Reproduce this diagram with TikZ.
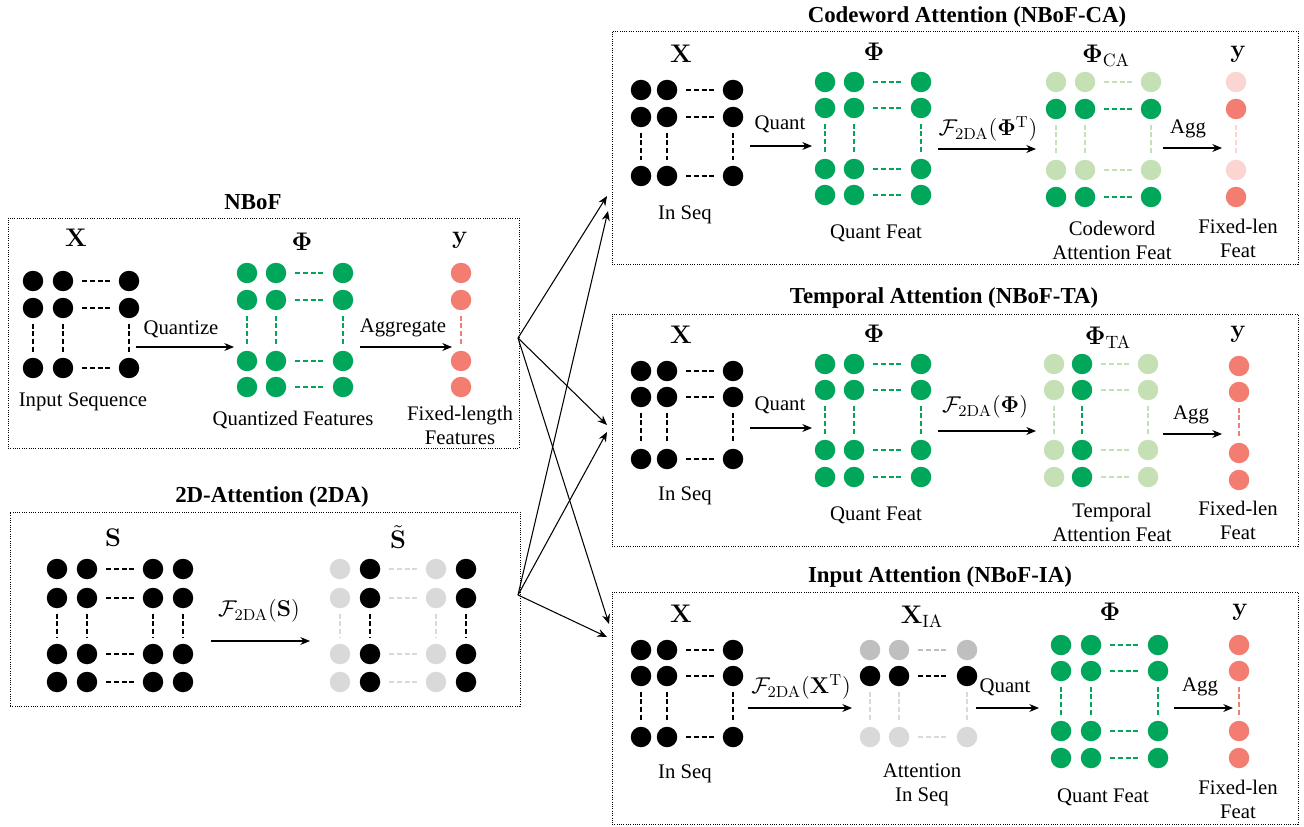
\RequirePackage{fix-cm}
\documentclass[tikz,border=0pt]{standalone}
\usepackage[no-math]{fontspec}
\setmainfont{Liberation Serif}
\usetikzlibrary{arrows.meta,fit}

\definecolor{qgreen}{RGB}{0,166,90}
\definecolor{lgreen}{RGB}{197,224,180}
\definecolor{salmon}{RGB}{242,125,112}
\definecolor{lpink}{RGB}{251,213,209}
\definecolor{lgray}{RGB}{217,217,217}
\definecolor{mgray}{RGB}{191,191,191}

\tikzset{
  pt/.style={circle, inner sep=0pt, minimum size=0.41cm},
  hd/.style={dash pattern=on 0.1cm off 0.055cm, line width=1.1pt, shorten <=0.17cm, shorten >=0.17cm},
  vd/.style={dash pattern=on 0.1cm off 0.055cm, line width=1.1pt, shorten <=0.1cm, shorten >=0.1cm},
  panel/.style={draw, dash pattern=on 0.5pt off 0.8pt, line width=0.5pt, inner sep=0pt},
  lbl/.style={align=center},
  ttl/.style={font=\fontsize{13}{15}\selectfont\bfseries},
  ml/.style={font=\fontsize{14.5}{16}\selectfont},
  fl/.style={font=\fontsize{13}{15}\selectfont},
  flow/.style={->, line width=0.6pt},
}

% row / column of dots: name, index, position, colour, positions
\newcommand{\dotrow}[5]{\foreach \px [count=\k] in {#5} \node[pt, fill=#4] (#1-#2-\k) at (\px,#3) {};}
\newcommand{\dotcol}[5]{\foreach \py [count=\k] in {#5} \node[pt, fill=#4] (#1-\k-#2) at (#3,\py) {};}

\begin{document}
\begin{tikzpicture}[x=0.02cm, y=-0.02cm, line join=round, font=\fontsize{11.8}{13.6}\selectfont, >={Stealth[length=5.5pt,width=4.5pt]}]
\useasboundingbox (0,0) rectangle (1304,827);

% ---------------- NBoF
\node[panel, fit={(8,218) (519,448)}] (nbof) {};
\node[ttl] (nbof-t) at (253,202) {NBoF};
\node[ml] (nbof-xl) at (76,238) {$\mathbf{X}$};
\node[ml] (nbof-pl) at (302,242) {$\mathbf{\Phi}$};
\node[ml] (nbof-yl) at (460,240) {$\mathbf{y}$};
\foreach \py [count=\r] in {281,308,368} {\dotrow{nx}{\r}{\py}{black}{33,63,129}}
\foreach \r in {1,2,3} \draw[hd] (nx-\r-2) -- (nx-\r-3);
\foreach \c in {1,2,3} \draw[vd] (nx-2-\c) -- (nx-3-\c);
\foreach \py [count=\r] in {273,300,361,387} {\dotrow{np}{\r}{\py}{qgreen}{247,276,343}}
\foreach \r in {1,...,4} \draw[hd, qgreen] (np-\r-2) -- (np-\r-3);
\foreach \c in {1,2,3} \draw[vd, qgreen] (np-2-\c) -- (np-3-\c);
\dotcol{ny}{1}{461}{salmon}{273,300,361,387}
\draw[vd, salmon] (ny-2-1) -- (ny-3-1);
\node (nbof-in) at (83,402) {Input Sequence};
\node (nbof-qf) at (293,420) {Quantized Features};
\node[lbl] (nbof-ff) at (460,425) {Fixed-length\\Features};
\coordinate (nq-s) at (136,347); \coordinate (nq-e) at (234,347);
\coordinate (na-s) at (360,347); \coordinate (na-e) at (452,347);
\draw[flow] (nq-s) -- (nq-e);
\draw[flow] (na-s) -- (na-e);
\node (nq-l) at (181,329) {Quantize};
\node (na-l) at (403,328) {Aggregate};

% ---------------- 2DA
\node[panel, fit={(10,512) (520,706)}] (tda) {};
\node[ttl] (tda-t) at (272,497) {2D-Attention (2DA)};
\node[ml] (tda-sl) at (113,538) {$\mathbf{S}$};
\node[ml] (tda-stl) at (398,537) {$\tilde{\mathbf{S}}$};
\foreach \py [count=\r] in {569,598,654,682} {\dotrow{s}{\r}{\py}{black}{57,87,153,183}}
\foreach \r in {1,...,4} \draw[hd] (s-\r-2) -- (s-\r-3);
\foreach \c in {1,...,4} \draw[vd] (s-2-\c) -- (s-3-\c);
\foreach \px/\cl [count=\c] in {340/lgray,370/black,436/lgray,466/black} {
  \dotcol{st}{\c}{\px}{\cl}{569,598,654,682}
  \draw[vd, \cl] (st-2-\c) -- (st-3-\c);}
\foreach \r in {1,...,4} \draw[hd, lgray] (st-\r-2) -- (st-\r-3);
\coordinate (tf-s) at (211,641); \coordinate (tf-e) at (310,641);
\draw[flow] (tf-s) -- (tf-e);
\node[fl] (tf-l) at (259,611) {$\mathcal{F}_{\mathrm{2DA}}(\mathbf{S})$};

% ---------------- Codeword Attention
\node[panel, fit={(612,31) (1298,264)}] (ca) {};
\node[ttl] (ca-t) at (967,17) {Codeword Attention (NBoF-CA)};
\node[ml] (ca-xl) at (681,54) {$\mathbf{X}$};
\node[ml] (ca-pl) at (874,52) {$\mathbf{\Phi}$};
\node[ml] (ca-cl) at (1106,56) {$\mathbf{\Phi}_{\mathrm{CA}}$};
\node[ml] (ca-yl) at (1238,54) {$\mathbf{y}$};
\foreach \py [count=\r] in {90,117,176} {\dotrow{cx}{\r}{\py}{black}{641,667,733}}
\foreach \r in {1,2,3} \draw[hd] (cx-\r-2) -- (cx-\r-3);
\foreach \c in {1,2,3} \draw[vd] (cx-2-\c) -- (cx-3-\c);
\foreach \py [count=\r] in {82,108,169,195} {\dotrow{cp}{\r}{\py}{qgreen}{825,854,921}}
\foreach \r in {1,...,4} \draw[hd, qgreen] (cp-\r-2) -- (cp-\r-3);
\foreach \c in {1,2,3} \draw[vd, qgreen] (cp-2-\c) -- (cp-3-\c);
\foreach \py/\cl [count=\r] in {82/lgreen,109/qgreen,170/lgreen,197/qgreen} {
  \dotrow{cc}{\r}{\py}{\cl}{1056,1085,1151}
  \draw[hd, \cl] (cc-\r-2) -- (cc-\r-3);}
\foreach \c in {1,2,3} \draw[vd, lgreen] (cc-2-\c) -- (cc-3-\c);
\foreach \py/\cl [count=\r] in {82/lpink,109/salmon,170/lpink,197/salmon} {
  \node[pt, fill=\cl] (cy-\r-1) at (1236,\py) {};}
\draw[vd, lpink] (cy-2-1) -- (cy-3-1);
\node (ca-in) at (685,215) {In Seq};
\node (ca-qf) at (876,233) {Quant Feat};
\node[lbl] (ca-af) at (1112,240) {Codeword\\Attention Feat};
\node[lbl] (ca-ff) at (1238,238) {Fixed-len\\Feat};
\coordinate (cq-s) at (750,146); \coordinate (cq-e) at (812,146);
\coordinate (cf-s) at (938,149); \coordinate (cf-e) at (1036,149);
\coordinate (cg-s) at (1163,148); \coordinate (cg-e) at (1222,148);
\draw[flow] (cq-s) -- (cq-e);
\draw[flow] (cf-s) -- (cf-e);
\draw[flow] (cg-s) -- (cg-e);
\node (cq-l) at (780,124) {Quant};
\node[fl] (cf-l) at (988,129) {$\mathcal{F}_{\mathrm{2DA}}(\mathbf{\Phi}^{\mathrm{T}})$};
\node (cg-l) at (1188,129) {Agg};

% ---------------- Temporal Attention
\node[panel, fit={(612,314) (1298,546)}] (ta) {};
\node[ttl] (ta-t) at (944,298) {Temporal Attention (NBoF-TA)};
\node[ml] (ta-xl) at (681,335) {$\mathbf{X}$};
\node[ml] (ta-pl) at (874,334) {$\mathbf{\Phi}$};
\node[ml] (ta-cl) at (1108,338) {$\mathbf{\Phi}_{\mathrm{TA}}$};
\node[ml] (ta-yl) at (1238,334) {$\mathbf{y}$};
\foreach \py [count=\r] in {371,397,459} {\dotrow{tx}{\r}{\py}{black}{641,667,733}}
\foreach \r in {1,2,3} \draw[hd] (tx-\r-2) -- (tx-\r-3);
\foreach \c in {1,2,3} \draw[vd] (tx-2-\c) -- (tx-3-\c);
\foreach \py [count=\r] in {364,390,450,477} {\dotrow{tp}{\r}{\py}{qgreen}{825,854,921}}
\foreach \r in {1,...,4} \draw[hd, qgreen] (tp-\r-2) -- (tp-\r-3);
\foreach \c in {1,2,3} \draw[vd, qgreen] (tp-2-\c) -- (tp-3-\c);
\foreach \px/\cl [count=\c] in {1054/lgreen,1082/qgreen,1148/lgreen} {
  \dotcol{tc}{\c}{\px}{\cl}{364,390,450,477}
  \draw[vd, \cl] (tc-2-\c) -- (tc-3-\c);}
\foreach \r in {1,...,4} \draw[hd, lgreen] (tc-\r-2) -- (tc-\r-3);
\dotcol{ty}{1}{1239}{salmon}{366,392,453,480}
\draw[vd, salmon] (ty-2-1) -- (ty-3-1);
\node (ta-in) at (685,496) {In Seq};
\node (ta-qf) at (876,515) {Quant Feat};
\node[lbl] (ta-af) at (1112,522) {Temporal\\Attention Feat};
\node[lbl] (ta-ff) at (1238,520) {Fixed-len\\Feat};
\coordinate (tq-s) at (750,428); \coordinate (tq-e) at (812,428);
\coordinate (tt-s) at (938,431); \coordinate (tt-e) at (1036,431);
\coordinate (tg-s) at (1163,434); \coordinate (tg-e) at (1222,434);
\draw[flow] (tq-s) -- (tq-e);
\draw[flow] (tt-s) -- (tt-e);
\draw[flow] (tg-s) -- (tg-e);
\node (tq-l) at (780,405) {Quant};
\node[fl] (tt-l) at (985,407) {$\mathcal{F}_{\mathrm{2DA}}(\mathbf{\Phi})$};
\node (tg-l) at (1191,415) {Agg};

% ---------------- Input Attention
\node[panel, fit={(612,592) (1298,824)}] (ia) {};
\node[ttl] (ia-t) at (940,577) {Input Attention (NBoF-IA)};
\node[ml] (ia-xl) at (681,614) {$\mathbf{X}$};
\node[ml] (ia-al) at (922,617) {$\mathbf{X}_{\mathrm{IA}}$};
\node[ml] (ia-pl) at (1110,612) {$\mathbf{\Phi}$};
\node[ml] (ia-yl) at (1240,612) {$\mathbf{y}$};
\foreach \py [count=\r] in {650,676,737} {\dotrow{ix}{\r}{\py}{black}{641,667,733}}
\foreach \r in {1,2,3} \draw[hd] (ix-\r-2) -- (ix-\r-3);
\foreach \c in {1,2,3} \draw[vd] (ix-2-\c) -- (ix-3-\c);
\foreach \py/\cl [count=\r] in {650/mgray,676/black,737/lgray} {
  \dotrow{ia}{\r}{\py}{\cl}{870,899,967}
  \draw[hd, \cl] (ia-\r-2) -- (ia-\r-3);}
\foreach \c in {1,2,3} \draw[vd, lgray] (ia-2-\c) -- (ia-3-\c);
\foreach \py [count=\r] in {645,671,731,758} {\dotrow{ip}{\r}{\py}{qgreen}{1061,1091,1158}}
\foreach \r in {1,...,4} \draw[hd, qgreen] (ip-\r-2) -- (ip-\r-3);
\foreach \c in {1,2,3} \draw[vd, qgreen] (ip-2-\c) -- (ip-3-\c);
\dotcol{iy}{1}{1239}{salmon}{645,671,731,758}
\draw[vd, salmon] (iy-2-1) -- (iy-3-1);
\node (ia-in) at (685,774) {In Seq};
\node[lbl] (ia-ai) at (922,785) {Attention\\In Seq};
\node (ia-qf) at (1103,797) {Quant Feat};
\node[lbl] (ia-ff) at (1238,799) {Fixed-len\\Feat};
\coordinate (if-s) at (748,708); \coordinate (if-e) at (852,708);
\coordinate (iq-s) at (976,708); \coordinate (iq-e) at (1039,708);
\coordinate (ig-s) at (1174,708); \coordinate (ig-e) at (1233,708);
\draw[flow] (if-s) -- (if-e);
\draw[flow] (iq-s) -- (iq-e);
\draw[flow] (ig-s) -- (ig-e);
\node[fl] (if-l) at (801,687) {$\mathcal{F}_{\mathrm{2DA}}(\mathbf{X}^{\mathrm{T}})$};
\node (iq-l) at (1005,687) {Quant};
\node (ig-l) at (1200,687) {Agg};

% ---------------- links
\coordinate (nbof-out) at (518,338);
\coordinate (tda-out) at (518,595);
\coordinate (ca-in1) at (607,196); \coordinate (ca-in2) at (608,211);
\coordinate (ta-in1) at (607,425); \coordinate (ta-in2) at (607,432);
\coordinate (ia-in1) at (609,624); \coordinate (ia-in2) at (607,637);
\draw[flow] (nbof-out) -- (ca-in1);
\draw[flow] (nbof-out) -- (ta-in1);
\draw[flow] (nbof-out) -- (ia-in1);
\draw[flow] (tda-out) -- (ca-in2);
\draw[flow] (tda-out) -- (ta-in2);
\draw[flow] (tda-out) -- (ia-in2);
\end{tikzpicture}
\end{document}
